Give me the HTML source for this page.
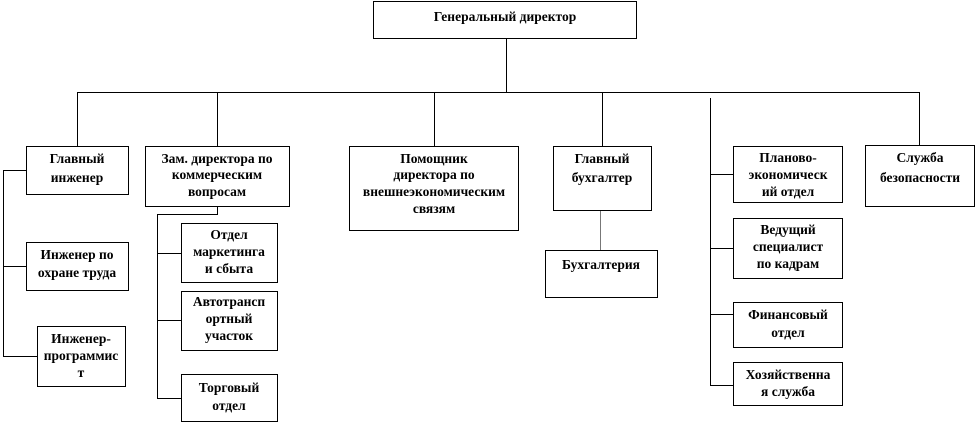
<!DOCTYPE html>
<html><head><meta charset="utf-8"><style>
html,body{margin:0;padding:0;background:#fff;}
svg text{font-family:"Liberation Serif","DejaVu Serif",serif;font-weight:bold;font-size:13.5px;fill:#000;text-anchor:middle;}
</style></head><body>
<svg width="979" height="426" viewBox="0 0 979 426" xmlns="http://www.w3.org/2000/svg">
<g fill="#fff" stroke="#000" stroke-width="1">
<rect x="373.5" y="1.5" width="263" height="37"/>
<rect x="26.5" y="146.5" width="102" height="48"/>
<rect x="26.5" y="242.5" width="102" height="48"/>
<rect x="37.5" y="326.5" width="88" height="60"/>
<rect x="145.5" y="146.5" width="144" height="60"/>
<rect x="181.5" y="223.5" width="96" height="59"/>
<rect x="181.5" y="291.5" width="96" height="59"/>
<rect x="181.5" y="374.5" width="96" height="47"/>
<rect x="349.5" y="146.5" width="169" height="84"/>
<rect x="553.5" y="146.5" width="98" height="64"/>
<rect x="545.5" y="250.5" width="112" height="47"/>
<rect x="733.5" y="146.5" width="109" height="56"/>
<rect x="733.5" y="218.5" width="109" height="60"/>
<rect x="733.5" y="302.5" width="109" height="45"/>
<rect x="733.5" y="362.5" width="109" height="43"/>
<rect x="865.5" y="145.5" width="109" height="61"/>
</g>
<g stroke="#000" stroke-width="1" fill="none">
<path d="M506.5 38V92.5M77.5 92.5H919.5M77.5 92V146M217.5 92V146M434.5 92V146M602.5 92V146M919.5 92V145"/>
<path d="M26 170.5H3.5V356.5H37M3.5 266.5H26"/>
<path d="M217.5 207V214.5H157.5V398.5H181M157.5 253.5H181M157.5 320.5H181"/>
<path d="M710.5 98V385.5H733M710.5 174.5H733M710.5 248.5H733M710.5 314.5H733"/>
</g>
<path d="M600.5 211V250" stroke="#777" stroke-width="1"/>
<text x="505" y="21">Генеральный директор</text>
<text x="77" y="163">Главный</text><text x="77" y="182">инженер</text>
<text x="77" y="259">Инженер по</text><text x="77" y="277">охране труда</text>
<text x="81" y="343">Инженер-</text><text x="81" y="360">программис</text><text x="81" y="377">т</text>
<text x="217" y="163">Зам. директора по</text><text x="217" y="179">коммерческим</text><text x="217" y="196">вопросам</text>
<text x="229" y="239">Отдел</text><text x="229" y="256">маркетинга</text><text x="229" y="273">и сбыта</text>
<text x="229" y="306">Автотрансп</text><text x="229" y="323">ортный</text><text x="229" y="340">участок</text>
<text x="229" y="392">Торговый</text><text x="229" y="410">отдел</text>
<text x="434" y="163">Помощник</text><text x="434" y="179">директора по</text><text x="434" y="196">внешнеэкономическим</text><text x="434" y="213">связям</text>
<text x="602" y="163">Главный</text><text x="602" y="182">бухгалтер</text>
<text x="601" y="269">Бухгалтерия</text>
<text x="788" y="162">Планово-</text><text x="788" y="179">экономическ</text><text x="788" y="196">ий отдел</text>
<text x="788" y="234">Ведущий</text><text x="788" y="251">специалист</text><text x="788" y="268">по кадрам</text>
<text x="788" y="319">Финансовый</text><text x="788" y="337">отдел</text>
<text x="788" y="379">Хозяйственна</text><text x="788" y="396">я служба</text>
<text x="920" y="162">Служба</text><text x="920" y="182">безопасности</text>
</svg>
</body></html>
